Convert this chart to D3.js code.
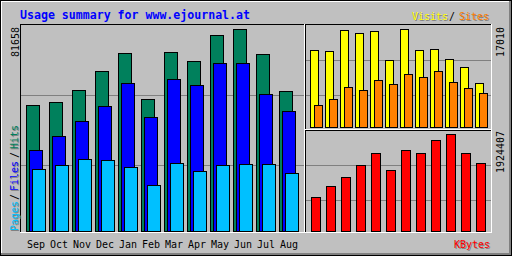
<!DOCTYPE html>
<html><head><meta charset="utf-8">
<script src="https://cdn.jsdelivr.net/npm/d3@7"></script>
<style>
html,body{margin:0;padding:0;background:#fff;}
svg{display:block;}
text{font-family:"DejaVu Sans Mono",monospace;}
</style></head>
<body>
<script>
const title = "Usage summary for www.ejournal.at";
const months = ["Sep","Oct","Nov","Dec","Jan","Feb","Mar","Apr","May","Jun","Jul","Aug"];
const hits   = [51087,52294,57121,64764,72004,53501,72406,68786,79244,81658,71602,56719];
const files  = [32985,38617,44651,50685,60057,46259,61545,59132,67982,67982,55512,48673];
const pages  = [25342,26951,29365,28962,26147,18906,27756,24538,26951,27353,27353,23733];
const visits = [13365,13191,16836,16316,16663,11629,17010,13365,13539,11803,10414,7811];
const sites  = [3992,5034,7116,6596,8331,7637,9199,8679,9720,7984,6943,6075];
const kbytes = [687288,903293,1080024,1315665,1551310,1217481,1610221,1551310,1806586,1924407,1551310,1354937];
const maxLabels = {main:"81658", visits:"17010", kbytes:"1924407"};

const W=512,H=256;
const BG="#c0c0c0", DK="#808080", WH="#ffffff", BK="#000000";
const C = {hits:"#00805c", files:"#0000ff", pages:"#00c0ff", visits:"#ffff00", sites:"#ff8000", kbytes:"#ff0000"};

const svg = d3.select("body").append("svg").attr("width",W).attr("height",H);
svg.append("rect").attr("width",W).attr("height",H).attr("fill",BG);

function hline(y,x1,x2,c){svg.append("line").attr("x1",x1).attr("x2",x2+1).attr("y1",y+0.5).attr("y2",y+0.5).attr("stroke",c).attr("stroke-width",1);}
function vline(x,y1,y2,c){svg.append("line").attr("y1",y1).attr("y2",y2+1).attr("x1",x+0.5).attr("x2",x+0.5).attr("stroke",c).attr("stroke-width",1);}

// outer frame
hline(0,0,511,BK); vline(0,0,255,BK);
hline(1,1,509,WH); vline(1,1,253,WH);
vline(509,1,254,DK); vline(510,1,254,DK); hline(253,1,510,DK); hline(254,1,510,DK);
vline(511,0,255,BK); hline(255,0,511,BK);

// gridlines
[95,165].forEach(y=>hline(y,21,303,DK));
[60,95,165,200].forEach(y=>hline(y,306,490,DK));

// panels
function panel(x1,y1,x2,y2){ // black top/left, white bottom/right
  hline(y1,x1,x2-1,BK); vline(x1,y1,y2-1,BK);
  vline(x2,y1,y2,WH); hline(y2,x1,x2,WH);
}
panel(20,24,304,232);
panel(305,24,491,129);
panel(305,130,491,232);

// scales
const xMain = d3.scaleBand().domain(months).range([26,26+23*12]).paddingInner(0).paddingOuter(0);
const xRight = d3.scaleBand().domain(months).range([310,310+15*12]).paddingInner(0).paddingOuter(0);
const yMain = d3.scaleLinear().domain([0,d3.max(hits)]).range([232,29]);
const yVis = d3.scaleLinear().domain([0,d3.max(visits)]).range([128,29]);
const yKb = d3.scaleLinear().domain([0,d3.max(kbytes)]).range([232,134]);

function bars(data, xf, off, w, y, base, color){
  svg.append("g").selectAll("rect").data(data).join("rect")
    .attr("x",(d,i)=>xf(months[i])+off+0.5)
    .attr("y",d=>Math.round(y(d))+0.5)
    .attr("width",w)
    .attr("height",d=>base-1-Math.round(y(d)))
    .attr("fill",color).attr("stroke",BK).attr("stroke-width",1);
}
bars(hits, xMain, 0, 13, yMain, 232, C.hits);
bars(files, xMain, 3, 13, yMain, 232, C.files);
bars(pages, xMain, 6, 13, yMain, 232, C.pages);
bars(visits, xRight, 0, 8, yVis, 128, C.visits);
bars(sites, xRight, 4, 8, yVis, 128, C.sites);
bars(kbytes, xRight, 1, 9, yKb, 232, C.kbytes);

// title
svg.append("text").attr("x",20).attr("y",19).attr("fill","#0000ff")
  .attr("font-size","11.6px").attr("font-weight","bold")
  .attr("textLength",230).attr("lengthAdjust","spacingAndGlyphs").text(title);

// month labels
svg.append("g").selectAll("text").data(months).join("text")
  .attr("x",d=>xMain(d)+1).attr("y",248).attr("font-size","10px").attr("fill",BK).text(d=>d);

// legend helpers
function txt(x,y,s,color,shadow){
  if(shadow) svg.append("text").attr("x",x+1).attr("y",y+1).attr("font-size","10px").attr("fill",DK).text(s);
  svg.append("text").attr("x",x).attr("y",y).attr("font-size","10px").attr("fill",color).text(s);
}
function vtxt(x,y,s,color,shadow){
  if(shadow) svg.append("text").attr("transform",`translate(${x+1},${y+1}) rotate(-90)`).attr("font-size","10px").attr("fill",DK).text(s);
  svg.append("text").attr("transform",`translate(${x},${y}) rotate(-90)`).attr("font-size","10px").attr("fill",color).text(s);
}
txt(412,20,"Visits",C.visits,true);
txt(449,20,"/",BK,false);
txt(459,20,"Sites",C.sites,true);
txt(454,248,"KBytes",C.kbytes,true);

vtxt(18,231,"Pages",C.pages,true);
vtxt(18,200,"/",BK,false);
vtxt(18,191,"Files",C.files,true);
vtxt(18,158,"/",BK,false);
vtxt(18,149,"Hits",C.hits,true);

vtxt(19,27+maxLabels.main.length*6,maxLabels.main,BK,false);
vtxt(504,27+maxLabels.visits.length*6,maxLabels.visits,BK,false);
vtxt(504,131+maxLabels.kbytes.length*6,maxLabels.kbytes,BK,false);
</script>
</body></html>
